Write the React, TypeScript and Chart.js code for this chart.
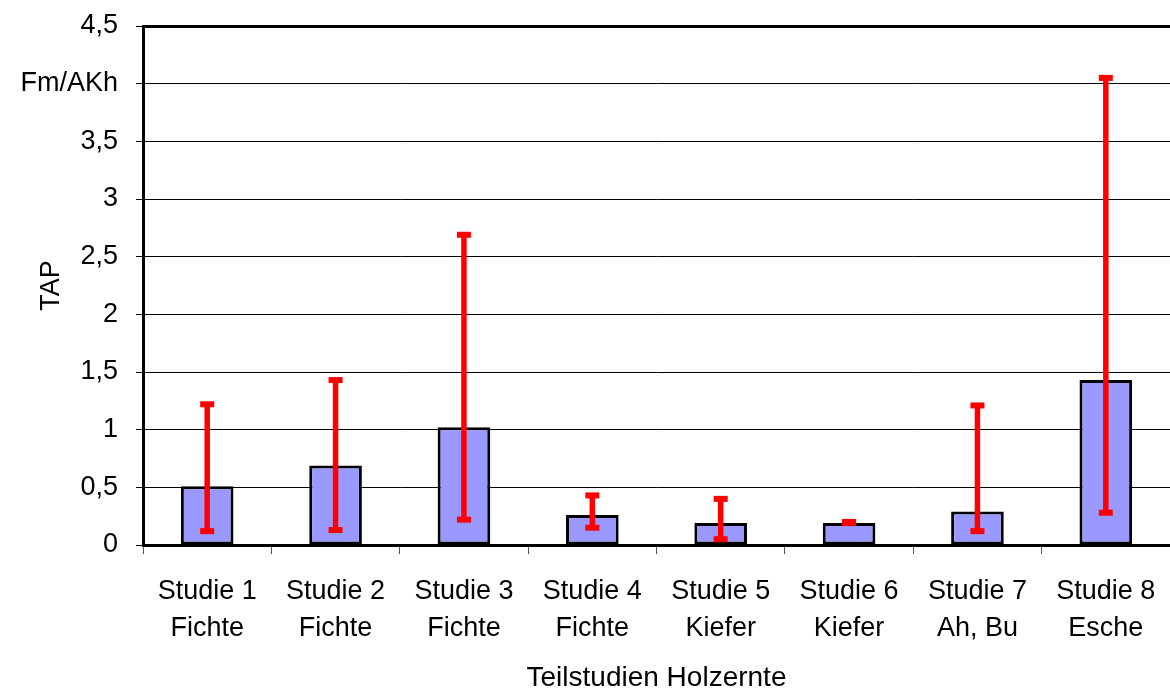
import React, { useEffect, useRef } from "react";
import { Chart, registerables } from "chart.js";

Chart.register(...registerables);

const studies = ["Studie 1", "Studie 2", "Studie 3", "Studie 4", "Studie 5", "Studie 6", "Studie 7", "Studie 8"];
const species = ["Fichte", "Fichte", "Fichte", "Fichte", "Kiefer", "Kiefer", "Ah, Bu", "Esche"];
const tapValues = [0.51, 0.69, 1.02, 0.26, 0.19, 0.19, 0.29, 1.43];
const errLow = [0.12, 0.13, 0.22, 0.15, 0.05, 0.19, 0.12, 0.28];
const errHigh = [1.22, 1.43, 2.69, 0.43, 0.4, 0.2, 1.21, 4.05];
const unitTickValue = 4;
const unitLabel = "Fm/AKh";
const yTitle = "TAP";
const xTitle = "Teilstudien Holzernte";

const FONT = "'Liberation Sans', Arial, sans-serif";

const errorBarPlugin = {
  id: "errorBars",
  afterDatasetsDraw(chart: any) {
    const ctx = chart.ctx;
    const xs = chart.scales.x;
    const ys = chart.scales.y;
    ctx.save();
    ctx.strokeStyle = "#FF0000";
    ctx.fillStyle = "#FF0000";
    for (let i = 0; i < tapValues.length; i++) {
      const x = xs.getPixelForValue(i);
      const yl = ys.getPixelForValue(errLow[i]);
      const yh = ys.getPixelForValue(errHigh[i]);
      ctx.lineWidth = 5.5;
      ctx.beginPath();
      ctx.moveTo(x, yl);
      ctx.lineTo(x, yh);
      ctx.stroke();
      ctx.fillRect(x - 7, yl - 3, 14, 6);
      ctx.fillRect(x - 7, yh - 3, 14, 6);
    }
    ctx.restore();
  },
};

export default function App() {
  const ref = useRef<HTMLCanvasElement | null>(null);
  useEffect(() => {
    if (!ref.current) return;
    const chart = new Chart(ref.current, {
      type: "bar",
      data: {
        labels: studies.map((s, i) => [s, species[i]]),
        datasets: [
          {
            data: tapValues,
            backgroundColor: "#9999FF",
            borderColor: "#000000",
            borderWidth: 3,
            borderSkipped: false,
            categoryPercentage: 1,
            barPercentage: 0.41,
          },
        ],
      },
      options: {
        animation: false,
        responsive: false,
        maintainAspectRatio: false,
        layout: { padding: { top: 26, right: -5, left: 0, bottom: 0 } },
        plugins: { legend: { display: false }, tooltip: { enabled: false } },
        scales: {
          x: {
            offset: true,
            grid: {
              offset: true,
              drawOnChartArea: false,
              drawTicks: true,
              tickLength: 9,
              tickColor: "#555",
              tickWidth: 1,
            },
            border: { color: "#000", width: 3 },
            ticks: {
              color: "#000",
              font: { family: FONT, size: 27, lineHeight: 1.37 },
              padding: 19,
              maxRotation: 0,
              autoSkip: false,
            },
            title: {
              display: true,
              text: xTitle,
              color: "#000",
              font: { family: FONT, size: 28, lineHeight: 1 },
              padding: { top: 0, bottom: -2 },
            },
            afterFit(scale: any) {
              scale.height = 145;
              scale.paddingLeft = 0;
              scale.paddingRight = 0;
            },
          },
          y: {
            min: 0,
            max: 4.5,
            grid: {
              color: "#000",
              lineWidth: (ctx: any) => (ctx.tick && ctx.tick.value === 4.5 ? 3 : 1),
              tickLength: 7,
              tickColor: "#000",
              tickWidth: 1,
            },
            border: { color: "#000", width: 3 },
            ticks: {
              stepSize: 0.5,
              color: "#000",
              padding: 18,
              font: { family: FONT, size: 27 },
              callback: (v: any) => (Number(v) === unitTickValue ? unitLabel : String(v).replace(".", ",")),
            },
            title: {
              display: true,
              text: yTitle,
              color: "#000",
              font: { family: FONT, size: 27, lineHeight: 1 },
              padding: { top: 38, bottom: 0 },
            },
            afterFit(scale: any) {
              scale.width = 143;
              scale.paddingTop = 0;
              scale.paddingBottom = 0;
            },
          },
        },
      },
      plugins: [errorBarPlugin],
    });
    return () => chart.destroy();
  }, []);
  return (
    <div style={{ position: "absolute", left: 0, top: 0, width: 1170, height: 690, overflow: "hidden" }}>
      <canvas ref={ref} width={1170} height={690} style={{ width: 1170, height: 690 }} />
    </div>
  );
}
